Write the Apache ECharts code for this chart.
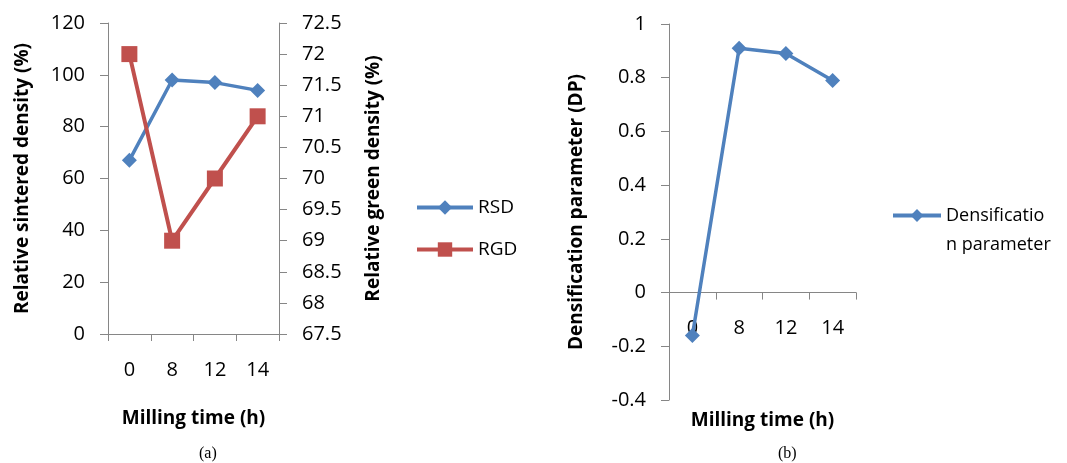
<!DOCTYPE html>
<html>
<head>
<meta charset="utf-8">
<script src="https://cdn.jsdelivr.net/npm/echarts@6/dist/echarts.min.js"></script>
<style>
html,body{margin:0;padding:0;background:#fff;}
#main{width:1067px;height:463px;}
</style>
</head>
<body>
<div id="main"></div>
<script>
// data
var millTime = ['0', '8', '12', '14'];
var rsd = [67, 98, 97, 94];
var rgd = [72, 69, 70, 71];
var dp = [-0.16, 0.91, 0.89, 0.79];

var axisGray = '#868686';
var fontFam = '"Open Sans", sans-serif';

// right panel grid + value range, used to lift its x axis up to y=0
var dpMin = -0.4, dpMax = 1;
var grid2 = {left: 669, right: 211, top: 24, bottom: 63};
var grid2H = 463 - grid2.top - grid2.bottom;
var zeroOffset = -(0 - dpMin) / (dpMax - dpMin) * grid2H;

var chart = echarts.init(document.getElementById('main'));

function yAx(gridIdx, min, max, step, name, pos, gap){
    return {
        type: 'value',
        gridIndex: gridIdx,
        position: pos,
        min: min, max: max, interval: step,
        name: name,
        nameLocation: 'middle',
        nameGap: gap,
        nameTextStyle: {fontFamily: fontFam, fontWeight: 'bold', fontSize: 19, color: '#000'},
        axisLine: {show: true, lineStyle: {color: axisGray, width: 1}},
        axisTick: {show: true, length: 8, lineStyle: {color: axisGray}},
        axisLabel: {fontFamily: fontFam, fontSize: 20, color: '#000', margin: 23},
        splitLine: {show: false}
    };
}

function xAx(gridIdx, gap, off){
    return {
        type: 'category',
        gridIndex: gridIdx,
        data: millTime,
        boundaryGap: true,
        offset: off,
        name: 'Milling time (h)',
        nameLocation: 'middle',
        nameGap: gap,
        nameTextStyle: {fontFamily: fontFam, fontWeight: 'bold', fontSize: 19, color: '#000'},
        axisLine: {show: true, onZero: false, lineStyle: {color: axisGray, width: 1}},
        axisTick: {show: true, length: 7, lineStyle: {color: axisGray}},
        axisLabel: {fontFamily: fontFam, fontSize: 20, color: '#000', margin: 26},
        splitLine: {show: false}
    };
}

var option = {
    animation: false,
    backgroundColor: '#fff',
    grid: [
        {left: 108, right: 788, top: 23, bottom: 129, outerBoundsMode: 'none'},
        {left: grid2.left, right: grid2.right, top: grid2.top, bottom: grid2.bottom, outerBoundsMode: 'none'}
    ],
    xAxis: [xAx(0, 75, 0), xAx(1, 119, zeroOffset)],
    yAxis: [
        yAx(0, 0, 120, 20, 'Relative sintered density (%)', 'left', 76),
        yAx(0, 67.5, 72.5, 0.5, 'Relative green density (%)', 'right', 85),
        yAx(1, dpMin, dpMax, 0.2, 'Densification parameter (DP)', 'left', 83)
    ],
    legend: [
        {
            orient: 'vertical',
            left: 415, top: 198, padding: 0,
            itemWidth: 56, itemHeight: 18, itemGap: 23,
            lineStyle: {width: 4},
            textStyle: {fontFamily: fontFam, fontSize: 19, color: '#000'},
            data: ['RSD', 'RGD']
        },
        {
            orient: 'vertical',
            left: 891, top: 172, padding: 0,
            itemWidth: 48, itemHeight: 16,
            lineStyle: {width: 4},
            textStyle: {fontFamily: fontFam, fontSize: 18, color: '#000', lineHeight: 29},
            formatter: function(){ return ' \nDensificatio\nn parameter'; },
            data: ['Densification parameter']
        }
    ],
    graphic: [
        {type: 'text', left: 199, top: 446, style: {text: '(a)', font: '16px "Liberation Serif", serif', fill: '#000'}},
        {type: 'text', left: 778, top: 446, style: {text: '(b)', font: '16px "Liberation Serif", serif', fill: '#000'}}
    ],
    series: [
        {
            name: 'RSD', type: 'line', xAxisIndex: 0, yAxisIndex: 0,
            data: rsd,
            symbol: 'diamond', symbolSize: 15,
            lineStyle: {color: '#4F81BD', width: 3.5},
            itemStyle: {color: '#4F81BD'}
        },
        {
            name: 'RGD', type: 'line', xAxisIndex: 0, yAxisIndex: 1,
            data: rgd,
            symbol: 'rect', symbolSize: 16,
            lineStyle: {color: '#C0504D', width: 4},
            itemStyle: {color: '#C0504D'}
        },
        {
            name: 'Densification parameter', type: 'line', xAxisIndex: 1, yAxisIndex: 2,
            data: dp,
            symbol: 'diamond', symbolSize: 15,
            lineStyle: {color: '#4F81BD', width: 3.5},
            itemStyle: {color: '#4F81BD'}
        }
    ]
};
chart.setOption(option);
</script>
</body>
</html>
